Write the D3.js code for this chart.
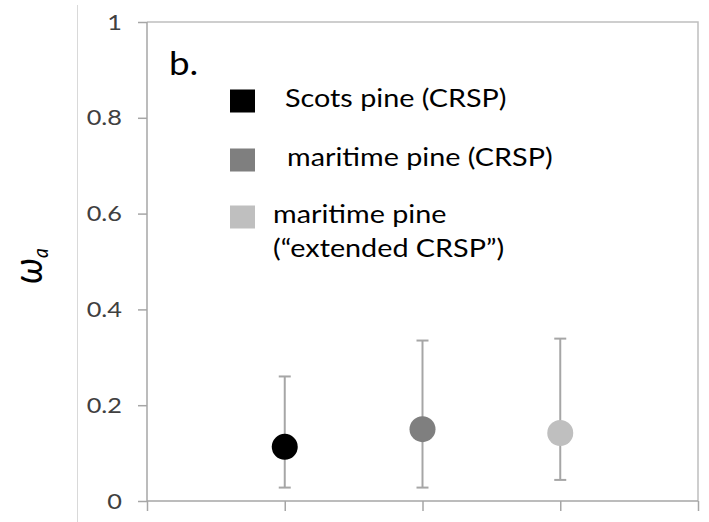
<!DOCTYPE html>
<html lang="en">
	<head>
		<meta charset="utf-8">
		<title>omega a by population</title>
		<script type="text/javascript" src="https://cdn.jsdelivr.net/npm/d3@7"></script>
		<style type="text/css">
			body { margin: 0; background: #fff; }
			text { font-family: Lato, "Open Sans", sans-serif; fill: #404040; }
		</style>
	</head>
	<body>
		<script type="text/javascript">

			//Width and height
			let w = 709;
			let h = 522;

			//Data
			let populations = ["Scots pine (CRSP)", "maritime pine (CRSP)", "maritime pine (\u201Cextended CRSP\u201D)"];
			let legendLines = [["Scots pine (CRSP)"], ["maritime pine (CRSP)"], ["maritime pine", "(\u201Cextended CRSP\u201D)"]];
			let xPos = [1, 2, 3];
			let means = [0.113, 0.150, 0.142];
			let upper = [0.260, 0.335, 0.339];
			let lower = [0.028, 0.028, 0.044];
			let colors = ["#000000", "#7f7f7f", "#bfbfbf"];
			let yTicks = [0, 0.2, 0.4, 0.6, 0.8, 1];

			//the original figure is stretched sideways, so text gets a wider x scale
			let stretch = 1.15;

			let x = d3.scaleLinear().domain([0, 4]).range([147, 698]);
			let y = d3.scaleLinear().domain([0, 1]).range([501, 22]);

			let svg = d3.select("body")
						.append("svg")
						  .attr("width", w)
						  .attr("height", h);

			//thin panel divider on the left
			svg.append("line")
				.attr("x1", 77.5).attr("x2", 77.5)
				.attr("y1", 5).attr("y2", h)
				.style("stroke", "#d9d9d9")
				.style("stroke-width", 1);

			//frame top and right
			svg.append("path")
				.attr("d", `M${x(0)},${y(1)}H${x(4)}V${y(0)}`)
				.style("fill", "none")
				.style("stroke", "#bfbfbf")
				.style("stroke-width", 1.5);

			//Y axis
			let yAxis = d3.axisLeft(y)
							.tickValues(yTicks)
							.tickSize(9)
							.tickPadding(16)
							.tickFormat(d3.format("~g"));

			let gy = svg.append("g")
				.attr("transform", `translate(${x(0)},0)`)
				.call(yAxis);

			//X axis, ticks only
			let xAxis = d3.axisBottom(x)
							.tickValues([0, 1, 2, 3, 4])
							.tickSize(10)
							.tickFormat("");

			let gx = svg.append("g")
				.attr("transform", `translate(0,${y(0)})`)
				.call(xAxis);

			[gy, gx].forEach(g => {
				g.selectAll("path, line")
					.style("stroke", "#a6a6a6")
					.style("stroke-width", 1.5);
				g.select(".domain").attr("d", g === gy ? `M0,${y(1)}V${y(0)}` : `M${x(0)},0H${x(4)}`);
			});

			gy.selectAll("text")
				.attr("x", null)
				.attr("transform", `translate(-25,0) scale(${stretch},1)`)
				.style("font-family", "Lato, sans-serif")
				.style("font-size", "22px")
				.style("fill", "#404040");

			//Error bars
			let bars = svg.selectAll("g.err")
				.data(xPos)
				.enter()
			  .append("g")
				.attr("class", "err")
				.style("stroke", "#a6a6a6")
				.style("stroke-width", 2);

			bars.append("line")
				.attr("x1", d => x(d)).attr("x2", d => x(d))
				.attr("y1", (d, i) => y(upper[i]))
				.attr("y2", (d, i) => y(lower[i]));

			bars.append("line")
				.attr("x1", d => x(d) - 6).attr("x2", d => x(d) + 6)
				.attr("y1", (d, i) => y(upper[i]))
				.attr("y2", (d, i) => y(upper[i]));

			bars.append("line")
				.attr("x1", d => x(d) - 6).attr("x2", d => x(d) + 6)
				.attr("y1", (d, i) => y(lower[i]))
				.attr("y2", (d, i) => y(lower[i]));

			//Points
			svg.selectAll("circle.pt")
				.data(xPos)
				.enter()
			  .append("circle")
				.attr("class", "pt")
				.attr("cx", d => x(d))
				.attr("cy", (d, i) => y(means[i]))
				.attr("r", 13)
				.style("fill", (d, i) => colors[i])
			  .append("title")
				.text((d, i) => populations[i] + ": " + means[i]);

			//Panel letter
			svg.append("text")
				.attr("transform", `translate(169,75) scale(${stretch},1)`)
				.style("font-size", "32px")
				.style("fill", "#000")
				.text("b.");

			//Legend
			let legendY = [101, 160, 217];
			let textX = [285, 287, 273];

			let legend = svg.selectAll("g.legend")
				.data(populations)
				.enter()
			  .append("g")
				.attr("class", "legend");

			legend.append("rect")
				.attr("x", 230)
				.attr("y", (d, i) => legendY[i] - 11.5)
				.attr("width", 25)
				.attr("height", 23)
				.style("fill", (d, i) => colors[i]);

			legend.append("text")
				.attr("transform", (d, i) => `translate(${textX[i]},${legendY[i] + 6}) scale(${stretch},1)`)
				.style("font-size", "25px")
				.style("fill", "#000")
				.each(function(d, i) {
					d3.select(this).selectAll("tspan")
						.data(legendLines[i])
						.enter()
					  .append("tspan")
						.attr("x", 0)
						.attr("dy", (t, j) => j === 0 ? 0 : 34)
						.text(t => t);
				});

			//Y axis title
			let yt = svg.append("text")
				.attr("transform", `translate(42,266) rotate(-90) scale(1,${stretch})`)
				.attr("text-anchor", "middle")
				.style("font-size", "36px")
				.style("fill", "#000");
			yt.append("tspan").style("font-style", "italic").text("\u03C9");
			yt.append("tspan").style("font-style", "italic").style("font-size", "19px").attr("dy", 5).text("a");

		</script>
	</body>
</html>
